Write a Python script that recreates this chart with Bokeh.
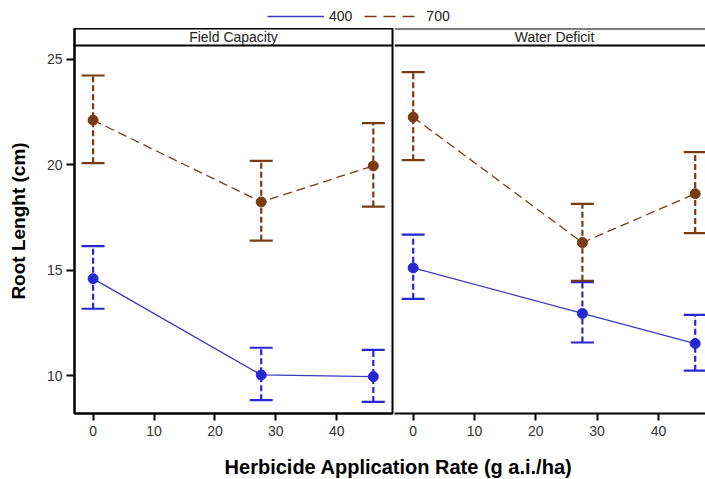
from bokeh.plotting import figure
from bokeh.layouts import column, row
from bokeh.models import (ColumnDataSource, Whisker, TeeHead, Span, Label, Legend,
                          LegendItem, FixedTicker, Range1d)
from bokeh.embed import file_html
from bokeh.resources import INLINE

# ---------------- data ----------------
rates = [0, 27.6, 46]
panels = ["Field Capacity", "Water Deficit"]
series_names = ["400", "700"]

fc_400_mean = [14.6, 10.03, 9.95]
fc_400_upper = [16.14, 11.32, 11.22]
fc_400_lower = [13.17, 8.83, 8.75]
fc_700_mean = [22.12, 18.24, 19.95]
fc_700_upper = [24.24, 20.19, 21.98]
fc_700_lower = [20.08, 16.40, 18.02]

wd_400_mean = [15.11, 12.95, 11.52]
wd_400_upper = [16.69, 14.43, 12.88]
wd_400_lower = [13.64, 11.57, 10.23]
wd_700_mean = [22.26, 16.31, 18.63]
wd_700_upper = [24.40, 18.15, 20.60]
wd_700_lower = [20.22, 14.50, 16.76]

y_ticks = [10, 15, 20, 25]
x_ticks = [0, 10, 20, 30, 40]

# ---------------- style ----------------
FONT = "Liberation Sans"
BLUE = "#2727d6"
BLUE_LINE = "#3a3abd"
BROWN = "#7a3a12"
Y_START, Y_END = 8.2, 26.47
HEADER_Y = 25.66
HEADER_TEXT_Y = 26.06
X_START = -3.05
X_END_FULL = 49.15
FRAME_H = 385

def style_common(p):
    p.toolbar_location = None
    p.xgrid.visible = False
    p.ygrid.visible = False
    p.background_fill_color = "white"
    p.border_fill_color = "white"

def add_series(p, mean, upper, lower, line_color, mark_color, dash):
    src = ColumnDataSource(dict(x=rates, y=mean, upper=upper, lower=lower))
    w = Whisker(base="x", upper="upper", lower="lower", source=src,
                line_color=mark_color, line_width=2.2, line_dash="6 3",
                upper_head=TeeHead(size=23, line_color=mark_color, line_width=2.2),
                lower_head=TeeHead(size=23, line_color=mark_color, line_width=2.2))
    p.add_layout(w)
    r = p.line("x", "y", source=src, line_color=line_color, line_width=1.3,
               line_dash=dash)
    p.scatter("x", "y", source=src, size=10, fill_color=mark_color,
              line_color=mark_color)
    return r

def style_xaxis(p):
    ax = p.xaxis[0]
    ax.ticker = FixedTicker(ticks=x_ticks)
    ax.axis_line_width = 2
    ax.axis_line_color = "black"
    ax.major_tick_line_width = 2
    ax.major_tick_line_color = "black"
    ax.major_tick_out = 7
    ax.major_tick_in = 0
    ax.minor_tick_line_color = None
    ax.major_label_standoff = 5
    ax.major_label_text_font = FONT
    ax.major_label_text_font_size = "14px"
    ax.major_label_text_color = "#333333"

# ---------------- left panel ----------------
p1 = figure(frame_width=318, frame_height=FRAME_H, min_border_left=74,
            min_border_right=2, min_border_top=0, min_border_bottom=38,
            x_range=Range1d(X_START, X_END_FULL), y_range=Range1d(Y_START, Y_END),
            output_backend="svg", toolbar_location=None)
style_common(p1)
p1.outline_line_color = "black"
p1.outline_line_width = 2
style_xaxis(p1)
ya = p1.yaxis[0]
ya.ticker = FixedTicker(ticks=y_ticks)
ya.axis_line_width = 2
ya.axis_line_color = "black"
ya.major_tick_line_width = 2
ya.major_tick_line_color = "black"
ya.major_tick_out = 8
ya.major_tick_in = 0
ya.minor_tick_line_color = None
ya.major_label_standoff = 4
ya.major_label_text_font = FONT
ya.major_label_text_font_size = "14px"
ya.major_label_text_color = "#333333"
ya.axis_label = "Root Lenght (cm)"
ya.axis_label_text_font = FONT
ya.axis_label_text_font_style = "bold"
ya.axis_label_text_font_size = "19px"
ya.axis_label_text_color = "black"
ya.axis_label_standoff = 15

add_series(p1, fc_400_mean, fc_400_upper, fc_400_lower, BLUE_LINE, BLUE, "solid")
add_series(p1, fc_700_mean, fc_700_upper, fc_700_lower, BROWN, BROWN, "9 5")
p1.add_layout(Span(location=HEADER_Y, dimension="width", line_color="black", line_width=2))
p1.add_layout(Label(x=(X_START + X_END_FULL) / 2, y=HEADER_TEXT_Y, text=panels[0],
                    text_align="center", text_baseline="middle", text_font=FONT,
                    text_font_size="14px", text_color="#222222"))

# ---------------- right panel (cropped at the window edge) ----------------
p2 = figure(frame_width=311, frame_height=FRAME_H, min_border_left=0,
            min_border_right=0, min_border_top=0, min_border_bottom=38,
            x_range=Range1d(X_START, 47.68), y_range=Range1d(Y_START, Y_END),
            y_axis_location=None, output_backend="svg", toolbar_location=None)
style_common(p2)
p2.outline_line_color = None
style_xaxis(p2)
add_series(p2, wd_400_mean, wd_400_upper, wd_400_lower, BLUE_LINE, BLUE, "solid")
add_series(p2, wd_700_mean, wd_700_upper, wd_700_lower, BROWN, BROWN, "9 5")
p2.add_layout(Span(location=HEADER_Y, dimension="width", line_color="black", line_width=2))
p2.add_layout(Span(location=Y_END, dimension="width", line_color="black", line_width=2))
p2.add_layout(Label(x=(X_START + X_END_FULL) / 2, y=HEADER_TEXT_Y, text=panels[1],
                    text_align="center", text_baseline="middle", text_font=FONT,
                    text_font_size="14px", text_color="#222222"))

# ---------------- legend strip ----------------
pl = figure(width=705, height=28, x_range=Range1d(0, 1), y_range=Range1d(0, 1),
            x_axis_type=None, y_axis_type=None, min_border=0,
            output_backend="svg", toolbar_location=None)
style_common(pl)
pl.outline_line_color = None
# proxy renderers for the legend only (placed outside the visible strip)
r400 = pl.line(x=[5, 6], y=[5, 6], line_color=BLUE_LINE, line_width=1.3)
r700 = pl.line(x=[5, 6], y=[5, 6], line_color=BROWN, line_width=1.3, line_dash="12 7")
leg = Legend(items=[LegendItem(label=series_names[0], renderers=[r400]),
                    LegendItem(label=series_names[1], renderers=[r700])],
             orientation="horizontal", location=(267, 2), padding=0, margin=0,
             spacing=12, glyph_width=57, glyph_height=20, label_standoff=5,
             label_text_font=FONT, label_text_font_size="14px",
             label_text_color="#222222", border_line_color=None,
             background_fill_alpha=0)
pl.add_layout(leg, "center")

# ---------------- x-axis title strip ----------------
pb = figure(width=705, height=28, x_range=Range1d(0, 705), y_range=Range1d(0, 28),
            x_axis_type=None, y_axis_type=None, min_border=0,
            output_backend="svg", toolbar_location=None)
style_common(pb)
pb.outline_line_color = None
pb.add_layout(Label(x=398, y=13, text="Herbicide Application Rate (g a.i./ha)",
                    text_align="center", text_baseline="middle", text_font=FONT,
                    text_font_style="bold", text_font_size="20px", text_color="black"))

layout = column(pl, row(p1, p2), pb)
open("out.html", "w").write(file_html(layout, INLINE))
